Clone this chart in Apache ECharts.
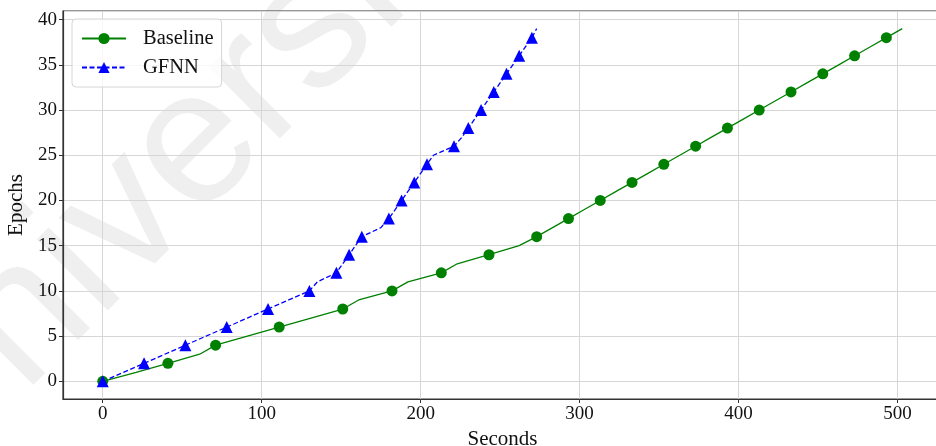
<!DOCTYPE html>
<html>
<head>
<meta charset="utf-8">
<script src="https://cdn.jsdelivr.net/npm/echarts@6/dist/echarts.min.js"></script>
<style>
  html, body { margin: 0; padding: 0; background: #fff; }
  #chart { width: 936px; height: 446px; }
</style>
</head>
<body>
<div id="chart"></div>
<script>
// epochs 0..39, seconds at which each epoch was reached
const epochs = [0, 1, 2, 3, 4, 5, 6, 7, 8, 9, 10, 11, 12, 13, 14, 15, 16, 17, 18, 19,
  20, 21, 22, 23, 24, 25, 26, 27, 28, 29, 30, 31, 32, 33, 34, 35, 36, 37, 38, 39];
const baselineSec = [0, 21, 41, 61, 71, 91, 111, 131, 151, 161, 182, 192, 213, 223, 243, 262,
  273, 283, 293, 303, 313, 323, 333, 343, 353, 363, 373, 383, 393, 403, 413, 423,
  433, 443, 453, 463, 473, 483, 493, 503];
const gfnnSec = [0, 13, 26, 39, 52, 65, 78, 91, 104, 117, 130, 135, 147, 151, 155, 159,
  163, 175, 180, 184, 188, 192, 196, 200, 204, 208, 221, 226, 230, 234, 238, 242,
  246, 250, 254, 258, 262, 266, 270, 273];

const font = 'Liberation Serif';
const chart = echarts.init(document.getElementById('chart'));

// markers only on every second epoch
const markEvery = (size) => (v, p) => (p.dataIndex % 2 === 0 ? size : 0);

const axisCommon = {
  nameLocation: 'middle',
  nameTextStyle: { fontFamily: font, fontSize: 21, color: '#111' },
  axisLine: { show: true, onZero: false, lineStyle: { color: '#333', width: 1.2 } },
  axisTick: { show: true, length: 4, lineStyle: { color: '#333' } },
  axisLabel: { fontFamily: font, fontSize: 19, color: '#111', margin: 6, showMinLabel: false, showMaxLabel: false },
  splitLine: { show: true, lineStyle: { color: '#d6d6d6', width: 1 } }
};

const option = {
  animation: false,
  backgroundColor: '#fff',
  graphic: [{
    // faint watermark behind the plot
    type: 'text',
    z: -1,
    x: -110,
    y: 454,
    rotation: 45 * Math.PI / 180,
    style: {
      text: 'University',
      font: '190px "Liberation Sans"',
      fill: '#efefef',
      align: 'left',
      verticalAlign: 'middle'
    }
  }],
  grid: {
    left: 63, right: -6, top: 11, bottom: 47,
    outerBoundsMode: 'none',
    containLabel: false,
    show: true, borderColor: '#333', borderWidth: 1.2
  },
  legend: {
    orient: 'vertical',
    left: 72, top: 19,
    padding: [9, 8, 9, 9],
    itemGap: 8,
    itemWidth: 44,
    itemHeight: 14,
    backgroundColor: 'rgba(255,255,255,0.8)',
    borderColor: '#d6d6d6',
    borderWidth: 1,
    borderRadius: 4,
    textStyle: { fontFamily: font, fontSize: 20.5, color: '#111', padding: [0, 0, 0, 12] },
    data: ['Baseline', 'GFNN']
  },
  xAxis: Object.assign({}, axisCommon, {
    type: 'value',
    min: -25, max: 528,
    splitNumber: 5,
    name: 'Seconds',
    nameGap: 24
  }),
  yAxis: Object.assign({}, axisCommon, {
    type: 'value',
    min: -1.95, max: 40.95,
    splitNumber: 8,
    name: 'Epochs',
    nameGap: 32
  }),
  series: [
    {
      name: 'Baseline',
      type: 'line',
      data: baselineSec.map((s, i) => [s, epochs[i]]),
      symbol: 'circle',
      symbolSize: markEvery(11),
      lineStyle: { color: '#008000', width: 1.3 },
      itemStyle: { color: '#008000' }
    },
    {
      name: 'GFNN',
      type: 'line',
      data: gfnnSec.map((s, i) => [s, epochs[i]]),
      symbol: 'triangle',
      symbolSize: markEvery(12),
      lineStyle: { color: '#0000ff', width: 1.3, type: [5, 2.5] },
      itemStyle: { color: '#0000ff' }
    }
  ]
};

chart.setOption(option);
</script>
</body>
</html>
